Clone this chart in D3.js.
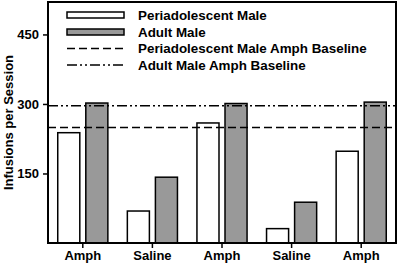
<!DOCTYPE html>
<html>
<head>
<meta charset="utf-8" />
<style>
    body { margin: 0; background: #fff; }
    svg { display: block; }
    text { font-family: "Liberation Sans", Arial, sans-serif; font-weight: bold; font-size: 13px; fill: #000; }
    .axis path, .axis line { stroke: #000; stroke-width: 1.5; }
</style>
<script src="https://d3js.org/d3.v7.min.js"></script>
</head>
<body>
<script>

// data
let categories = ["Amph", "Saline", "Amph", "Saline", "Amph"];
let periadolescent = [238, 69, 259, 31, 198];
let adult = [302, 142, 301, 88, 304];
let yTicks = [150, 300, 450];
let baselines = [249, 296];   // periadolescent, adult amph baseline
let legendLabels = ["Periadolescent Male", "Adult Male",
    "Periadolescent Male Amph Baseline", "Adult Male Amph Baseline"];

let realW = 397, realH = 264;
let margin = { top: 2, right: 1, bottom: 21, left: 48 };
let w = realW - margin.left - margin.right,
    h = realH - margin.top - margin.bottom;

let svg = d3.select("body").append("svg")
    .attr("width", realW)
    .attr("height", realH);

let g = svg.append("g")
    .attr("transform", "translate(" + margin.left + "," + margin.top + ")");

let x0 = d3.scaleBand()
    .domain(d3.range(categories.length))
    .range([0, w])
    .paddingInner(0.28)
    .paddingOuter(0.14);

let x1 = d3.scaleBand()
    .domain([0, 1])
    .range([0, x0.bandwidth()])
    .paddingInner(0.214);

let y = d3.scaleLinear()
    .domain([0, 520])
    .range([h, 0]);

let fills = ["#ffffff", "#999999"];

// bars
let groups = g.selectAll("g.grp")
    .data(categories.map((c, i) => [periadolescent[i], adult[i]]))
    .enter()
    .append("g")
    .attr("class", "grp")
    .attr("transform", (d, i) => "translate(" + x0(i) + ",0)");

groups.selectAll("rect")
    .data(d => d)
    .enter()
    .append("rect")
    .attr("x", (d, j) => x1(j))
    .attr("y", d => y(d))
    .attr("width", x1.bandwidth())
    .attr("height", d => h - y(d))
    .attr("fill", (d, j) => fills[j])
    .attr("stroke", "#000")
    .attr("stroke-width", 1.5);

// baselines
let dashes = ["8,4", "10,3,2,3,2,3"];
g.selectAll("line.base")
    .data(baselines)
    .enter()
    .append("line")
    .attr("class", "base")
    .attr("x1", 0)
    .attr("x2", w)
    .attr("y1", d => y(d))
    .attr("y2", d => y(d))
    .attr("stroke", "#000")
    .attr("stroke-width", 1.5)
    .attr("stroke-dasharray", (d, i) => dashes[i]);

// frame
g.append("rect")
    .attr("width", w)
    .attr("height", h)
    .attr("fill", "none")
    .attr("stroke", "#000")
    .attr("stroke-width", 2);

// axes
let yAxis = d3.axisLeft(y).tickValues(yTicks).tickSize(5).tickPadding(4);
g.append("g").attr("class", "axis").call(yAxis)
    .call(a => a.select(".domain").remove());

let xAxis = d3.axisBottom(x0).tickFormat(i => categories[i]).tickSize(5).tickPadding(3);
g.append("g").attr("class", "axis")
    .attr("transform", "translate(0," + h + ")")
    .call(xAxis)
    .call(a => a.select(".domain").remove());

g.selectAll(".axis text")
    .attr("font-family", null)
    .attr("font-size", null)
    .style("font-size", "13px");

// y label
svg.append("text")
    .attr("transform", "translate(13," + (margin.top + h / 2) + ") rotate(-90)")
    .attr("text-anchor", "middle")
    .text("Infusions per Session");

// legend
let legendY = [15, 32, 48.5, 65];
let lg = svg.append("g");
legendLabels.forEach((lab, i) => {
    let row = lg.append("g").attr("transform", "translate(0," + legendY[i] + ")");
    if (i < 2) {
        row.append("rect")
            .attr("x", 67).attr("y", -3)
            .attr("width", 57).attr("height", 6)
            .attr("fill", fills[i])
            .attr("stroke", "#000")
            .attr("stroke-width", 1.5);
    } else {
        row.append("line")
            .attr("x1", 67).attr("x2", 124)
            .attr("stroke", "#000")
            .attr("stroke-width", 1.5)
            .attr("stroke-dasharray", dashes[i - 2]);
    }
    row.append("text")
        .attr("x", 138)
        .attr("y", 4.5)
        .style("font-size", "13.4px")
        .text(lab);
});

</script>
</body>
</html>
